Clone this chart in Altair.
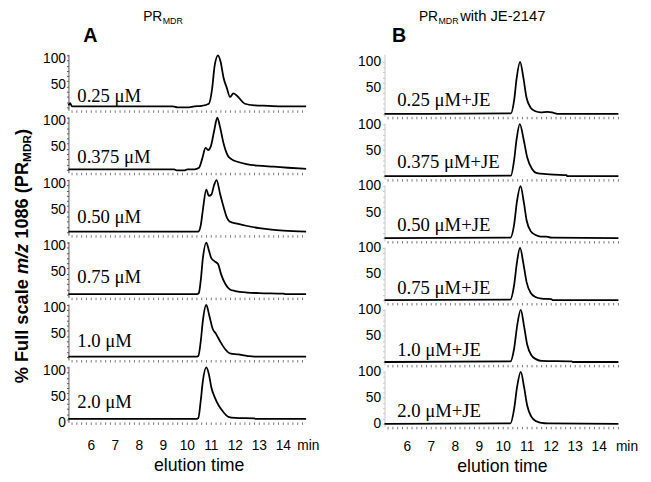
import altair as alt
import pandas as pd

# ------------------------------------------------------------------ data
A_LABELS = ["0.25 μM", "0.375 μM", "0.50 μM", "0.75 μM", "1.0 μM", "2.0 μM"]
B_LABELS = ["0.25 μM+JE", "0.375 μM+JE", "0.50 μM+JE", "0.75 μM+JE", "1.0 μM+JE", "2.0 μM+JE"]

A1_T = [5.05, 5.12, 5.2, 6.0, 7.0, 8.0, 9.0, 9.4, 9.6, 10.0, 10.3, 10.6, 10.9, 11.03, 11.14, 11.28, 11.39, 11.51, 11.65, 11.78, 11.92, 12.12, 12.4, 12.8, 13.36, 14.0, 14.95]
A1_V = [4, 8, 2, 2, 2, 2, 2, 2, 0, 0, 2, 3, 7, 34, 80, 100, 87, 57, 37, 20, 27, 20, 7, 4, 3, 2, 2]

A2_T = [5.05, 6.0, 7.0, 8.0, 9.0, 9.45, 9.55, 9.9, 10.0, 10.3, 10.49, 10.62, 10.76, 10.87, 10.98, 11.12, 11.25, 11.37, 11.51, 11.69, 11.85, 12.12, 12.46, 12.94, 13.6, 14.2, 14.95]
A2_V = [1, 1, 1, 1, 1, 1, -1, -1, 1, 1, 4, 21, 42, 38, 45, 75, 100, 81, 51, 27, 20, 15, 11, 8, 6, 4, 2]

A3_T = [5.05, 10.45, 10.56, 10.65, 10.79, 10.9, 11.0, 11.12, 11.22, 11.37, 11.51, 11.65, 11.78, 12.12, 12.5, 13.0, 13.5, 14.0, 14.95]
A3_V = [1, 1, 13, 43, 82, 70, 72, 91, 100, 73, 49, 28, 20, 16, 12, 8, 5, 3, 1]

A4_T = [5.05, 10.4, 10.48, 10.56, 10.65, 10.79, 10.9, 11.0, 11.14, 11.28, 11.41, 11.58, 11.78, 12.0, 12.5, 13.0, 14.0, 14.1, 14.95]
A4_V = [1, 1, 3, 27, 70, 100, 85, 70, 64, 59, 39, 21, 10, 7, 4, 3, 2, 1, 1]

A5_T = [5.05, 10.4, 10.46, 10.56, 10.65, 10.79, 10.92, 11.06, 11.19, 11.37, 11.58, 11.78, 12.12, 12.53, 12.8, 14.95]
A5_V = [1, 1, 2, 30, 70, 100, 79, 54, 45, 30, 15, 7, 5, 2, 1, 1]

A6_T = [5.05, 10.35, 10.46, 10.56, 10.65, 10.79, 10.9, 11.0, 11.14, 11.31, 11.51, 11.71, 11.99, 12.8, 12.85, 14.95]
A6_V = [1, 1, 3, 36, 74, 100, 87, 62, 43, 27, 14, 5, 3, 2, 1, 1]

B1_T = [5.05, 10.32, 10.45, 10.56, 10.7, 10.84, 10.97, 11.14, 11.34, 11.55, 11.85, 12.1, 12.3, 14.8]
B1_V = [0, 1, 25, 69, 100, 69, 31, 12, 5, 3, 4, 2, 0, 0]

B2_T = [5.05, 10.32, 10.45, 10.56, 10.69, 10.86, 11.0, 11.2, 11.4, 11.8, 12.1, 12.64, 12.66, 14.8]
B2_V = [0, 1, 30, 72, 100, 68, 36, 14, 6, 4, 3, 2, 0, 0]

B3_T = [5.05, 10.3, 10.45, 10.57, 10.72, 10.86, 10.98, 11.15, 11.35, 11.55, 11.8, 12.0, 14.8]
B3_V = [0, 1, 25, 70, 100, 68, 33, 13, 6, 3, 3, 1, 0]

B4_T = [5.05, 10.3, 10.45, 10.57, 10.7, 10.84, 10.97, 11.14, 11.34, 11.6, 12.0, 12.05, 14.8]
B4_V = [0, 1, 28, 72, 100, 70, 35, 14, 6, 3, 2, 0, 0]

B5_T = [5.05, 10.3, 10.45, 10.58, 10.73, 10.87, 11.0, 11.17, 11.38, 11.6, 12.85, 12.9, 14.8]
B5_V = [0, 1, 25, 70, 100, 68, 33, 13, 5, 2, 1, 0, 0]

B6_T = [5.05, 10.3, 10.45, 10.58, 10.73, 10.87, 11.0, 11.17, 11.38, 11.6, 11.85, 14.8]
B6_V = [0, 1, 28, 72, 100, 70, 35, 14, 5, 2, 1, 0]

X_TICKS = [6, 7, 8, 9, 10, 11, 12, 13, 14]
MINOR_TICKS = [round(5.2 + 0.2 * i, 1) for i in range(49)]
Y_TICKS = [0, 10, 20, 30, 40, 50, 60, 70, 80, 90, 100]

A_SERIES = [(A1_T, A1_V), (A2_T, A2_V), (A3_T, A3_V), (A4_T, A4_V), (A5_T, A5_V), (A6_T, A6_V)]
B_SERIES = [(B1_T, B1_V), (B2_T, B2_V), (B3_T, B3_V), (B4_T, B4_V), (B5_T, B5_V), (B6_T, B6_V)]

# ------------------------------------------------------------------ layout
PXU = 0.53           # pixels per % unit
ZERO_UP = 3.0        # zero level above panel bottom
LAYOUT = {
    "A": dict(w=243, h=[57, 57, 57, 57, 57, 57], xdom=[5.05, 15.0], dom="#555", lo=3, lpad=1,
              lx=9, ldy=[11.7, 13, 15, 17.4, 16.6, 17.4], sp=-0.5,
              tick_dy=24.5, min_x=244, min_dy=24.5, et_x=133, et_dy=44),
    "B": dict(w=238, h=[63.6, 57, 57, 57, 57, 57], xdom=[5.05, 14.8], dom="#c8c8c8", lo=0, lpad=2,
              lx=13, ldy=[14.3, 14.3, 13.4, 11.7, 12, 12.7], sp=-4.0,
              tick_dy=20.5, min_x=246.7, min_dy=20.5, et_x=120, et_dy=41),
}
SANS = "Liberation Sans"
SERIF = "Liberation Serif"
LINE_W = 1.8

# Arial-bold advance widths (per 1000 em) for the y-title pieces
AW = {'%': 889, ' ': 278, 'F': 611, 'u': 611, 'l': 278, 's': 556, 'c': 556, 'a': 556,
      'e': 556, 'm': 889, '/': 278, 'z': 500, '1': 556, '0': 556, '8': 556, '6': 556,
      '(': 333, 'P': 667, 'R': 722, 'M': 833, 'D': 722, ')': 333}


def tw(s, fs):
    return sum(AW.get(c, 556) for c in s) / 1000.0 * fs


def txt(s, x, y, fs, **kw):
    return alt.Chart(pd.DataFrame({"s": [s]})).mark_text(
        fontSize=fs, color="black", **kw
    ).encode(text="s:N", x=alt.value(x), y=alt.value(y))


def panel(col, row, t, v, label, extra):
    L = LAYOUT[col]
    h, w = L["h"][row], L["w"]
    lo = -ZERO_UP / PXU
    hi = lo + h / PXU
    bottom = row == 5
    xs = alt.Scale(domain=L["xdom"], nice=False, zero=False)
    ys = alt.Scale(domain=[lo, hi], nice=False, zero=False)
    lab_expr = ("datum.value == 0 || datum.value == 50 || datum.value == 100 ? datum.label : ''"
                if bottom else
                "datum.value == 50 || datum.value == 100 ? datum.label : ''")
    xaxis = alt.Axis(values=X_TICKS, labels=False, title=None, grid=False,
                     tickSize=5, tickColor="#444", domainColor="black", domainWidth=1)
    yaxis = alt.Axis(values=Y_TICKS, title=None, grid=False, tickSize=2,
                     tickColor=L["dom"], domainColor=L["dom"], labelExpr=lab_expr,
                     labelFont=SANS, labelFontSize=14, labelColor="black",
                     labelPadding=L["lpad"], labelOffset=L["lo"])
    df = pd.DataFrame({"t": t, "v": v})
    line = alt.Chart(df).mark_line(color="black", strokeWidth=LINE_W,
                                   interpolate="monotone").encode(
        x=alt.X("t:Q", scale=xs, axis=xaxis),
        y=alt.Y("v:Q", scale=ys, axis=yaxis),
    )
    minor = alt.Chart(pd.DataFrame({"t": MINOR_TICKS})).mark_rule(
        color="#777", strokeWidth=1
    ).encode(x=alt.X("t:Q", scale=xs, axis=None), y=alt.value(h), y2=alt.value(h + 2.5))
    lab = txt(label, L["lx"], h - ZERO_UP - L["ldy"][row], 19, font=SERIF,
              align="left", baseline="middle")
    layers = [line, minor, lab]
    if bottom:
        ticklab = alt.Chart(pd.DataFrame({"t": X_TICKS})).mark_text(
            font=SANS, fontSize=14, color="black", baseline="middle", align="center"
        ).encode(x=alt.X("t:Q", scale=xs, axis=None), y=alt.value(h + L["tick_dy"]),
                 text=alt.Text("t:Q", format="d"))
        layers += [
            ticklab,
            txt("min", L["min_x"], h + L["min_dy"], 14, font=SANS, align="center", baseline="middle"),
            txt("elution time", L["et_x"], h + L["et_dy"], 18, font=SANS, align="center",
                baseline="middle"),
        ]
    layers += extra
    return alt.layer(*layers).properties(width=w, height=h)


# titles above the first panel of each column
A_TOP = [
    txt("PR", 76, -33.4, 14, font=SANS, align="left", baseline="alphabetic"),
    txt("MDR", 76 + tw("PR", 14) + 0.5, -30.6, 9, font=SANS, align="left", baseline="alphabetic"),
    txt("A", 15, -12.7, 20, font=SANS, fontWeight="bold", align="left", baseline="alphabetic"),
]
B_TOP = [
    txt("PR", 35, -33.4, 14, font=SANS, align="left", baseline="alphabetic"),
    txt("MDR", 35 + tw("PR", 14) + 0.5, -30.6, 9, font=SANS, align="left", baseline="alphabetic"),
    txt("with JE-2147", 77, -33.4, 15, font=SANS, align="left", baseline="alphabetic"),
    txt("B", 7.7, -12.7, 20, font=SANS, fontWeight="bold", align="left", baseline="alphabetic"),
]

colA = alt.vconcat(*[
    panel("A", i, A_SERIES[i][0], A_SERIES[i][1], A_LABELS[i], A_TOP if i == 0 else [])
    for i in range(6)
], spacing=LAYOUT["A"]["sp"])
colB = alt.vconcat(*[
    panel("B", i, B_SERIES[i][0], B_SERIES[i][1], B_LABELS[i], B_TOP if i == 0 else [])
    for i in range(6)
], spacing=LAYOUT["B"]["sp"])

# rotated y title built from pieces (bottom -> top)
FS_T = 18.5
Y0 = 334.6
pieces = []
y = Y0
for s, fs, style, dx in [("% Full scale", FS_T, "normal", 0), (" ", FS_T, None, 0),
                         ("m/z", FS_T, "italic", 0), (" ", FS_T, None, 0),
                         ("1086 (PR", FS_T, "normal", 0), ("MDR", 12, "normal", 3.5),
                         (")", FS_T, "normal", 0)]:
    if style is not None:
        pieces.append(txt(s, 0 + dx, y, fs, font=SANS, fontWeight="bold", fontStyle=style,
                          angle=270, align="left", baseline="alphabetic"))
    y -= tw(s, fs)
ytitle = alt.layer(*pieces).properties(width=1, height=1)

chart = alt.hconcat(
    alt.hconcat(ytitle, colA, spacing=8.5),
    colB,
    spacing=38,
).properties(
    padding={"left": 4, "top": -3, "right": 5, "bottom": 5}
).configure_view(stroke=None)

chart.save("out.html", embed_options={"renderer": "svg", "actions": False})
